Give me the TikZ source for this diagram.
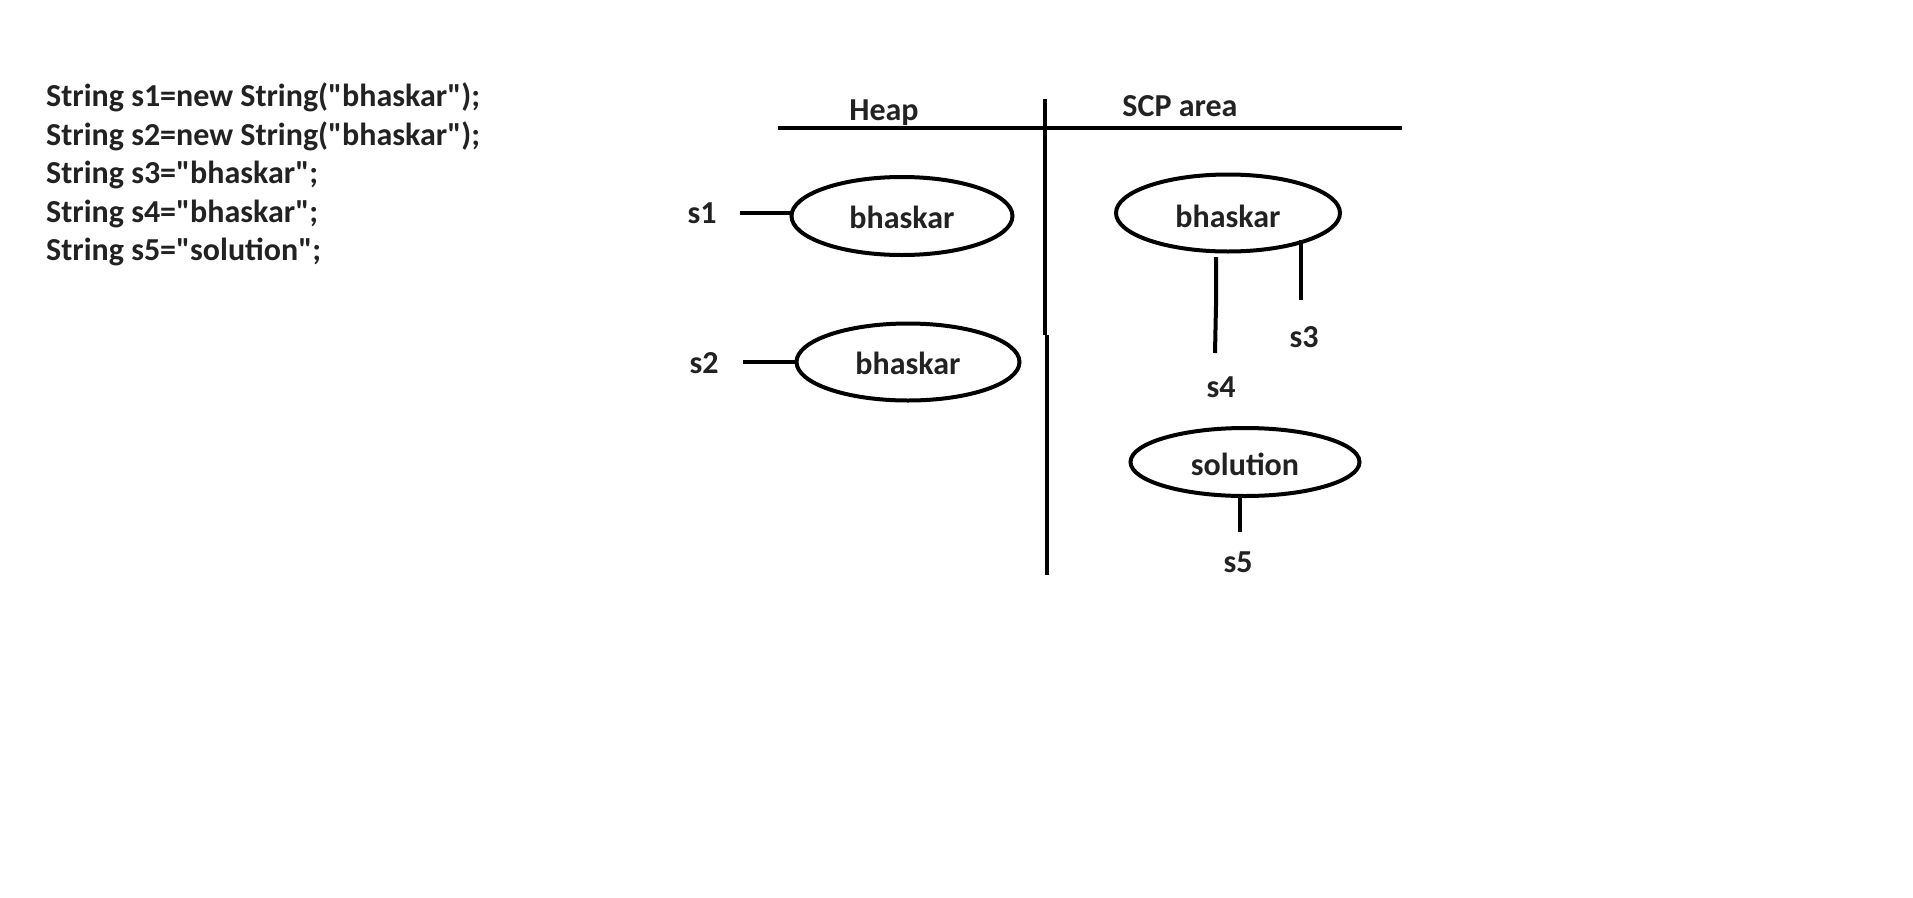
\documentclass[tikz,border=0pt]{standalone}
\usepackage{fontspec}
\setmainfont{Carlito}[Ligatures=TeXOff]
\usetikzlibrary{shapes.geometric}
\definecolor{txt}{HTML}{222222}
\begin{document}
\begin{tikzpicture}[x=1pt,y=-1pt,
  code/.style={anchor=base west,inner sep=0pt,text=txt,font=\fontsize{32}{38}\selectfont\bfseries},
  lbl/.style={anchor=base,inner sep=0pt,text=txt,font=\fontsize{32}{38}\selectfont\bfseries},
  ell/.style={ellipse,draw=black,line width=4pt,inner sep=0pt,text=txt,text depth=2pt,font=\fontsize{32}{38}\selectfont\bfseries},
  ln/.style={line width=4pt,draw=black}]
\useasboundingbox (0,0) rectangle (1913,897);
% code
\node[code] (c1) at (46,106.7) {String s1=new String("bhaskar");};
\node[code] (c2) at (46,145.2) {String s2=new String("bhaskar");};
\node[code] (c3) at (46,183.7) {String s3="bhaskar";};
\node[code] (c4) at (46,222.2) {String s4="bhaskar";};
\node[code] (c5) at (46,260.7) {String s5="solution";};
% headings and dividers
\node[lbl] (heap) at (884,120) {Heap};
\node[lbl] (scp) at (1180,116) {SCP area};
\coordinate (hl) at (778,128);
\coordinate (hr) at (1402,128);
\coordinate (vt) at (1045,99);
\coordinate (vm1) at (1045,335);
\coordinate (vm2) at (1047,335);
\coordinate (vb) at (1047,575);
\draw[ln] (hl) -- (hr);
\draw[ln] (vt) -- (vm1);
\draw[ln] (vm2) -- (vb);
% heap objects
\node[ell,text height=26pt,minimum width=221pt,minimum height=78pt] (h1) at (902,216) {bhaskar};
\node[ell,text height=26pt,minimum width=223pt,minimum height=77pt] (h2) at (908,362) {bhaskar};
\node[lbl] (s1) at (702,223) {s1};
\node[lbl] (s2) at (704,373) {s2};
\coordinate (s1c) at (740,213);
\coordinate (s2c) at (743,362);
\draw[ln] (s1c) -- (s1c -| h1.west);
\draw[ln] (s2c) -- (h2.west);
% SCP objects
\node[ell,text height=30pt,minimum width=224pt,minimum height=77pt] (p1) at (1228,213) {bhaskar};
\node[ell,text height=28pt,minimum width=229pt,minimum height=68pt] (p2) at (1245,462) {solution};
\node[lbl] (s3) at (1304,347) {s3};
\node[lbl] (s4) at (1221,397) {s4};
\node[lbl] (s5) at (1238,572) {s5};
\coordinate (s4a) at (1216,257);
\coordinate (s4b) at (1216,305);
\coordinate (s4c) at (1215,353);
\coordinate (s3a) at (1301,240);
\coordinate (s3b) at (1301,300);
\coordinate (s5a) at (1240,498);
\coordinate (s5b) at (1240,532);
\draw[ln] (s4a) -- (s4b) -- (s4c);
\draw[ln] (s3a) -- (s3b);
\draw[ln] (s5a) -- (s5b);
\end{tikzpicture}
\end{document}
